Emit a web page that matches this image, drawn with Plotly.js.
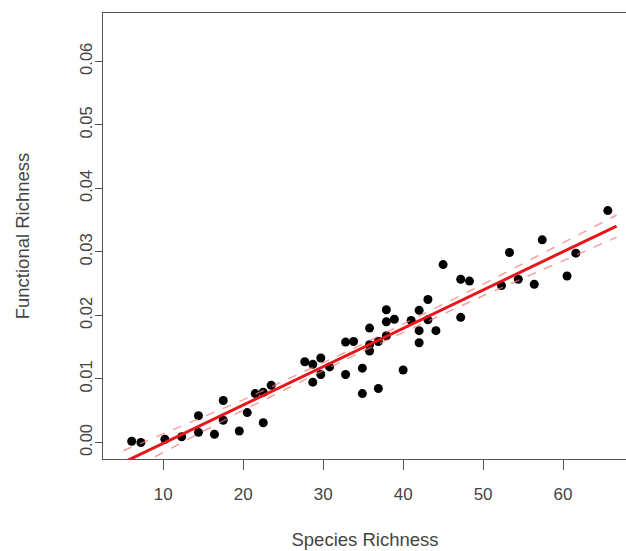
<!DOCTYPE html>
<html>
<head>
<meta charset="utf-8">
<script src="https://cdn.plot.ly/plotly-3.0.1.min.js"></script>
<style>
html, body { margin:0; padding:0; overflow:hidden; background:#fff; }
#chart { width:630px; height:551px; }
</style>
</head>
<body>
<div id="chart"></div>
<script>
// Observed points
var speciesRichness = [6.05, 7.2, 10.2, 12.3, 14.4, 14.4, 16.4, 17.5, 17.5, 19.5, 20.5, 21.5, 22.5, 22.5, 23.5,
  27.7, 28.7, 29.7, 29.7, 28.7, 30.8, 32.8, 33.8, 32.8, 34.9, 34.9, 35.8, 35.8, 35.8, 36.9, 36.9,
  37.9, 37.9, 37.9, 38.9, 41.0, 40.0, 42.0, 42.0, 42.0, 43.1, 43.1, 44.1, 45.0, 47.2, 48.3, 47.2,
  52.3, 53.3, 54.4, 56.4, 57.4, 60.5, 61.6, 65.6];
var functionalRichness = [0.0002, 0.0000, 0.0005, 0.0009, 0.0042, 0.0016, 0.0013, 0.0066, 0.0035, 0.0018, 0.0047, 0.0077, 0.0079, 0.0031, 0.0090,
  0.0127, 0.0123, 0.0133, 0.0107, 0.0095, 0.0119, 0.0158, 0.0159, 0.0107, 0.0117, 0.0077, 0.0180, 0.0154, 0.0144, 0.0159, 0.0085,
  0.0209, 0.0190, 0.0168, 0.0194, 0.0192, 0.0114, 0.0208, 0.0176, 0.0157, 0.0225, 0.0193, 0.0176, 0.0280, 0.0257, 0.0254, 0.0197,
  0.0247, 0.0299, 0.0257, 0.0249, 0.0319, 0.0262, 0.0298, 0.0365];

// Fitted line and confidence band
var fitX = [5, 20, 35, 50, 66.7];
var fitY = [-0.00314, 0.00591, 0.01496, 0.02400, 0.03407];
var upperY = [-0.0013, 0.0067, 0.0155, 0.0249, 0.0358];
var lowerY = [-0.0049, 0.0051, 0.0144, 0.0231, 0.0323];

var xTicks = [10, 20, 30, 40, 50, 60];
var yTicks = [0, 0.01, 0.02, 0.03, 0.04, 0.05, 0.06];
var yTickText = ['0.00', '0.01', '0.02', '0.03', '0.04', '0.05', '0.06'];

var traces = [
  { x: speciesRichness, y: functionalRichness, type: 'scatter', mode: 'markers',
    marker: { color: '#000', size: 9 }, hoverinfo: 'skip' },
  { x: fitX, y: upperY, type: 'scatter', mode: 'lines',
    line: { color: 'rgba(240,120,120,0.7)', width: 1.5, dash: 'dash' }, hoverinfo: 'skip' },
  { x: fitX, y: lowerY, type: 'scatter', mode: 'lines',
    line: { color: 'rgba(240,120,120,0.7)', width: 1.5, dash: 'dash' }, hoverinfo: 'skip' },
  { x: fitX, y: fitY, type: 'scatter', mode: 'lines',
    line: { color: '#e8161b', width: 3 }, hoverinfo: 'skip' }
];

var fontFam = 'Liberation Sans, Arial, sans-serif';
var txtCol = '#444';
var layout = {
  width: 630, height: 551,
  margin: { l: 103, r: 3, t: 13, b: 92 },
  paper_bgcolor: '#fff', plot_bgcolor: '#fff',
  showlegend: false,
  font: { family: fontFam, color: txtCol, size: 17 },
  xaxis: {
    range: [2.46, 68.0], tickvals: xTicks, ticktext: xTicks.map(String),
    showgrid: false, zeroline: false, showline: true, mirror: true,
    linecolor: '#555', linewidth: 1,
    ticks: 'outside', ticklen: 10, tickcolor: '#555', tickwidth: 1,
    ticklabelstandoff: 10,
    tickfont: { size: 17, color: txtCol },
    title: { text: 'Species Richness', font: { size: 18.5, color: txtCol }, standoff: 29 }
  },
  yaxis: {
    range: [-0.0026, 0.0676], tickvals: yTicks, ticktext: yTickText,
    showgrid: false, zeroline: false, showline: true, mirror: true,
    linecolor: '#555', linewidth: 1,
    ticks: 'outside', ticklen: 7, tickcolor: '#555', tickwidth: 1,
    ticklabelstandoff: -4,
    tickangle: -90,
    tickfont: { size: 16.5, color: txtCol },
    title: { text: 'Functional Richness', font: { size: 18.5, color: txtCol }, standoff: 42 }
  }
};

Plotly.newPlot('chart', traces, layout, { displayModeBar: false, staticPlot: true });
</script>
</body>
</html>
